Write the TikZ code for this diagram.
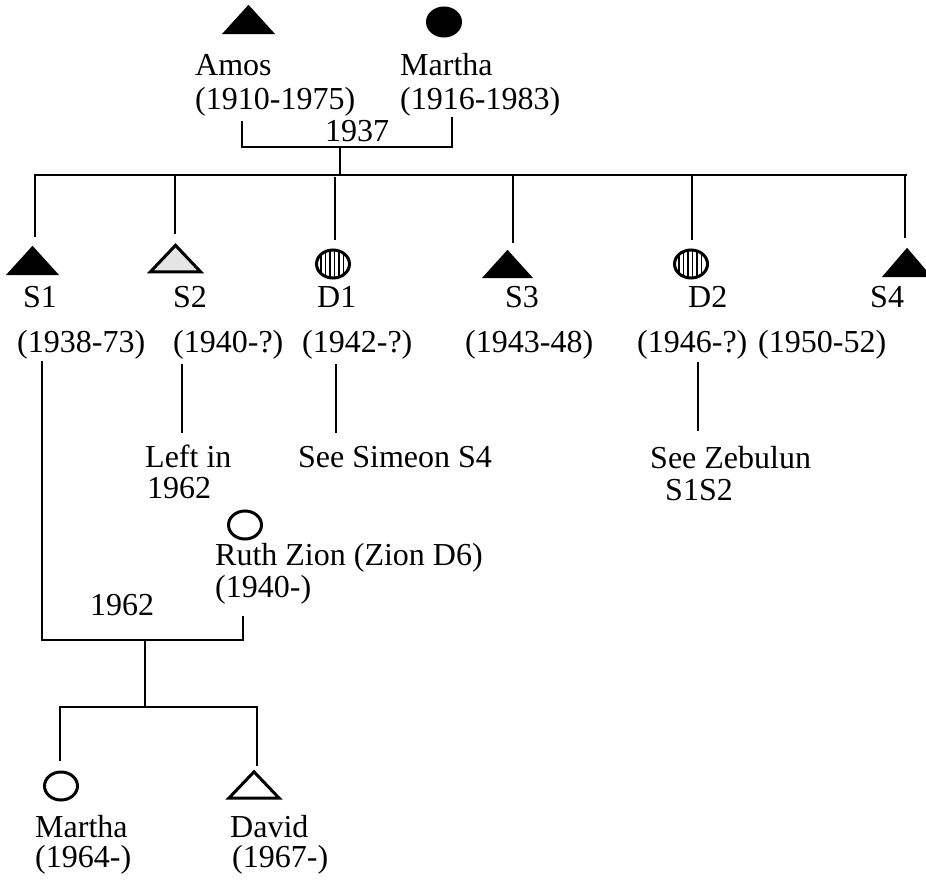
\documentclass[tikz,border=0pt]{standalone}
\usepackage{fontspec}
\setmainfont{Liberation Serif}
\usetikzlibrary{shapes.geometric}
\begin{document}
\begin{tikzpicture}[x=1pt,y=-1pt,
  conn/.style={line width=2.9pt, line cap=rect},
  thin conn/.style={line width=2.2pt},
  lbl/.style={anchor=base west, inner sep=0pt, font=\fontsize{32}{32}\selectfont},
  tribox/.style={inner sep=0pt, minimum width=53pt, minimum height=29pt},
  circ/.style={ellipse, draw, line width=3pt, inner sep=0pt, minimum width=33pt, minimum height=28pt},
  stripes/.style={circ, path picture={\foreach \i in {-12,-7.5,...,13}
      \draw[line width=1.8pt] ([xshift=\i pt]path picture bounding box.north) -- ([xshift=\i pt]path picture bounding box.south);}}
]
\useasboundingbox (0,0) rectangle (926,880);

% ---------- symbols ----------
\node[tribox] (Amos) at (248.5,19.5) {};
\fill (Amos.south west) -- (Amos.north) -- (Amos.south east) -- cycle;
\node[circ, fill=black] (MarthaA) at (444,22) {};

\node[tribox] (S1) at (32.5,260.5) {};
\fill (S1.south west) -- (S1.north) -- (S1.south east) -- cycle;
\node[tribox] (S2) at (175.5,258.5) {};
\filldraw[fill=black!10, line width=3pt, line join=miter] ([xshift=1.5pt,yshift=1.3pt]S2.south west) -- ([yshift=-1.5pt]S2.north) -- ([xshift=-1.5pt,yshift=1.3pt]S2.south east) -- cycle;
\node[stripes] (D1) at (333,264) {};
\node[tribox, minimum width=51pt, minimum height=28pt] (S3) at (507.5,264) {};
\fill (S3.south west) -- (S3.north) -- (S3.south east) -- cycle;
\node[stripes] (D2) at (691,264) {};
\node[tribox, minimum width=50pt] (S4) at (907,262.5) {};
\fill (S4.south west) -- (S4.north) -- (S4.south east) -- cycle;

\node[circ] (Ruth) at (245,525) {};
\node[circ] (MarthaC) at (61,786) {};
\node[tribox, minimum width=50pt, minimum height=26pt] (David) at (254,785) {};
\draw[line width=3pt, line join=miter] (David.south west) -- (David.north) -- (David.south east) -- cycle;

% ---------- labels ----------
\node[lbl] (tAmos) at (195,76) {Amos};
\node[lbl] (tAmosD) at (195,110) {(1910-1975)};
\node[lbl] (tMarthaA) at (400,76) {Martha};
\node[lbl] (tMarthaAD) at (400,110) {(1916-1983)};
\node[lbl] (t1937) at (325,142) {1937};

\node[lbl] (tS1) at (23,307) {S1};
\node[lbl] (tS2) at (173,307) {S2};
\node[lbl] (tD1) at (317,307) {D1};
\node[lbl] (tS3) at (505,307) {S3};
\node[lbl] (tD2) at (688,307) {D2};
\node[lbl] (tS4) at (870,307) {S4};

\node[lbl] (dS1) at (17,352) {(1938-73)};
\node[lbl] (dS2) at (173,352) {(1940-?)};
\node[lbl] (dD1) at (302,352) {(1942-?)};
\node[lbl] (dS3) at (465,352) {(1943-48)};
\node[lbl] (dD2) at (637,352) {(1946-?)};
\node[lbl] (dS4) at (758,352) {(1950-52)};

\node[lbl] (left1) at (145,467) {Left in};
\node[lbl] (left2) at (147,498) {1962};
\node[lbl] (simeon) at (298,467) {See Simeon S4};
\node[lbl] (zeb1) at (650,468) {See Zebulun};
\node[lbl] (zeb2) at (665,500) {S1S2};

\node[lbl] (tRuth) at (215,565) {Ruth Zion (Zion D6)};
\node[lbl] (tRuthD) at (215,597) {(1940-)};
\node[lbl] (t1962) at (90,615) {1962};

\node[lbl] (tMarthaC) at (35,837) {Martha};
\node[lbl] (tMarthaCD) at (35,867) {(1964-)};
\node[lbl] (tDavid) at (230,837) {David};
\node[lbl] (tDavidD) at (232,867) {(1967-)};

% ---------- connector points ----------
\coordinate (mA) at (242,122);
\coordinate (mM) at (452,118);
\coordinate (mAM) at (340,147);
\coordinate (sib) at (340,175);
\coordinate (sibL) at (35,175);
\coordinate (sibR) at (907,175);
\coordinate (dropS1) at (35,236);
\coordinate (dropS2) at (175,233);
\coordinate (dropD1) at (335,239);
\coordinate (dropS3) at (513,242);
\coordinate (dropD2) at (692,239);
\coordinate (dropS4) at (905,237);

\coordinate (s2a) at (182,365);
\coordinate (s2b) at (182,432);
\coordinate (d1a) at (336,365);
\coordinate (d1b) at (336,432);
\coordinate (d2a) at (698,363);
\coordinate (d2b) at (698,430);

\coordinate (s1a) at (42,362);
\coordinate (s1b) at (42,640);
\coordinate (ra) at (243,617);
\coordinate (rb) at (243,640);
\coordinate (m2) at (145,640);
\coordinate (kids) at (145,707);
\coordinate (kidsL) at (60,707);
\coordinate (kidsR) at (258,707);
\coordinate (dropMC) at (60,760);
\coordinate (dropDv) at (257,765);

% ---------- connectors ----------
\draw[conn] (mA) |- (mAM) -| (mM);
\draw[conn] (mAM) -- (sib);
\draw[thin conn] (sibL) -- (sibR);
\draw[conn] (sibL) -- (dropS1);
\draw[conn] (dropS2 |- sibL) -- (dropS2);
\draw[conn] (335,178) -- (dropD1);
\draw[conn] (dropS3 |- sibL) -- (dropS3);
\draw[conn] (dropD2 |- sibL) -- (dropD2);
\draw[conn] (dropS4 |- sibL) -- (dropS4);

\draw[conn] (s2a) -- (s2b);
\draw[conn] (d1a) -- (d1b);
\draw[conn] (d2a) -- (d2b);

\draw[conn] (s1a) -- (s1b) -- (rb) -- (ra);
\draw[conn] (m2) -- (kids);
\draw[thin conn] (kidsL) -- (kidsR);
\draw[conn] (kidsL) -- (dropMC);
\draw[conn] (kidsR -| dropDv) -- (dropDv);
\end{tikzpicture}
\end{document}
